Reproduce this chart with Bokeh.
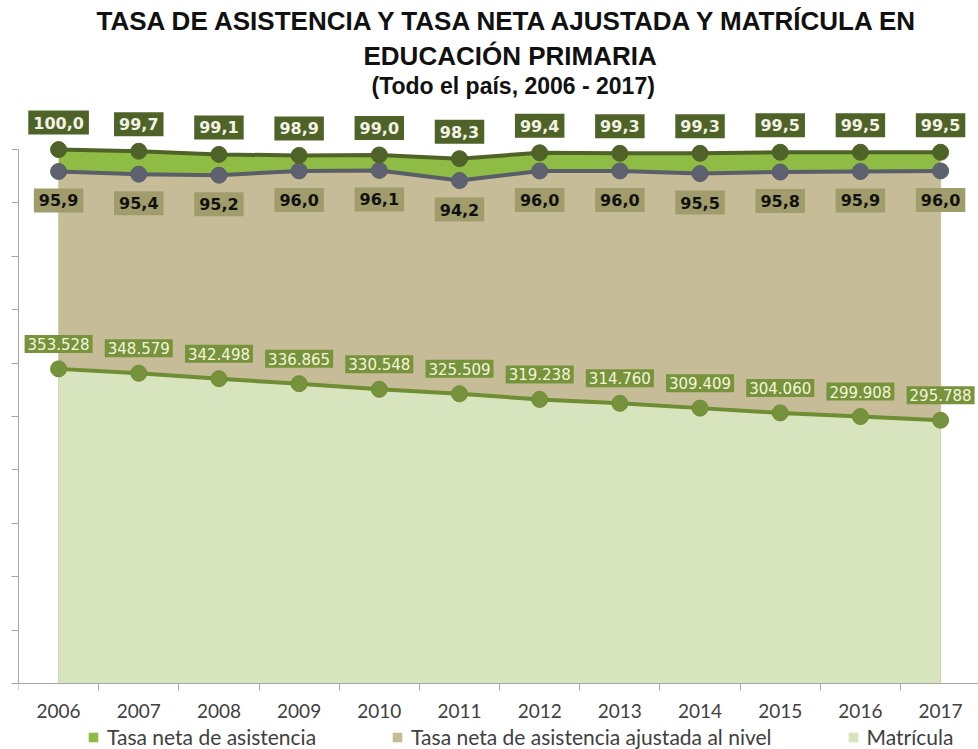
from bokeh.plotting import figure
from bokeh.models import (Range1d, FixedTicker, Legend, LegendItem, Title, LinearAxis, CustomJSTickFormatter)
from bokeh.core.properties import value
from bokeh.embed import file_html
from bokeh.resources import INLINE

years = [2006, 2007, 2008, 2009, 2010, 2011, 2012, 2013, 2014, 2015, 2016, 2017]
tasa_neta = [100.0, 99.7, 99.1, 98.9, 99.0, 98.3, 99.4, 99.3, 99.3, 99.5, 99.5, 99.5]
tasa_ajustada = [95.9, 95.4, 95.2, 96.0, 96.1, 94.2, 96.0, 96.0, 95.5, 95.8, 95.9, 96.0]
matricula = [353528, 348579, 342498, 336865, 330548, 325509, 319238, 314760, 309409, 304060, 299908, 295788]
series_names = ["Tasa neta de asistencia", "Tasa neta de asistencia ajustada al nivel", "Matrícula"]
title_lines = ["TASA DE ASISTENCIA Y TASA NETA AJUSTADA  Y MATRÍCULA EN",
               "EDUCACIÓN  PRIMARIA",
               "(Todo el país, 2006 - 2017)"]

lbl_neta = [f"{v:.1f}".replace(".", ",") for v in tasa_neta]
lbl_aj = [f"{v:.1f}".replace(".", ",") for v in tasa_ajustada]
lbl_mat = [f"{v:,}".replace(",", ".") for v in matricula]

PCT_MAX = 100.0
MAT_MAX = 600000.0
Y_START = -12.38
Y_END = 109.57

p = figure(width=978, height=749, output_backend="svg", toolbar_location=None,
           x_range=Range1d(2005.5, 2017.473), y_range=Range1d(Y_START, Y_END),
           min_border_left=18, min_border_right=0, min_border_top=0, min_border_bottom=0,
           y_axis_location=None, x_axis_location=None)
p.extra_y_ranges = {"mat": Range1d(MAT_MAX * Y_START / PCT_MAX, MAT_MAX * Y_END / PCT_MAX)}
p.outline_line_color = None
p.xgrid.visible = False
p.ygrid.visible = False
p.background_fill_color = "white"

# axes
yax = LinearAxis(ticker=FixedTicker(ticks=[i * 10 for i in range(11)]), bounds=(0, 100),
                 formatter=CustomJSTickFormatter(code="return ''"),
                 major_label_standoff=0,
                 major_tick_out=7, major_tick_in=0, minor_tick_out=0, minor_tick_in=0,
                 axis_line_color="#a6a6a6", major_tick_line_color="#a6a6a6")
p.add_layout(yax, "left")
xax = LinearAxis(ticker=FixedTicker(ticks=years, minor_ticks=[y - 0.5 for y in years] + [2017.5]),
                 fixed_location=0,
                 major_tick_out=0, major_tick_in=0, minor_tick_out=7, minor_tick_in=0,
                 axis_line_color="#a6a6a6", minor_tick_line_color="#a6a6a6",
                 major_label_text_font="Lato", major_label_text_font_size="19px",
                 major_label_text_color="#404040", major_label_standoff=14)
p.add_layout(xax, "below")

# areas
r_neta = p.varea(x=years, y1=0, y2=tasa_neta, fill_color="#8fbc45")
r_aj = p.varea(x=years, y1=0, y2=tasa_ajustada, fill_color="#c6bc98")
r_mat = p.varea(x=years, y1=0, y2=matricula, fill_color="#d7e4bd", y_range_name="mat")

# lines + markers
p.line(years, matricula, line_color="#6f8d33", line_width=4, y_range_name="mat")
p.scatter(years, matricula, size=16, fill_color="#76923c", line_color="#6f8d33", y_range_name="mat")
p.line(years, tasa_ajustada, line_color="#5a5e68", line_width=4)
p.scatter(years, tasa_ajustada, size=16, fill_color="#5e6270", line_color="#5a5e68")
p.line(years, tasa_neta, line_color="#4f6228", line_width=4)
p.scatter(years, tasa_neta, size=16, fill_color="#4f6228", line_color="#4f6228")

# data labels
p.text(years, tasa_neta, text=lbl_neta, y_offset=-27, text_align="center", text_baseline="middle",
       text_font=value("DejaVu Sans"), text_font_style="bold", text_font_size=value("16px"),
       text_color="#f2f2e6", background_fill_color="#4f6228", border_line_color=None, padding=(5, 6))
p.text(years, tasa_ajustada, text=lbl_aj, y_offset=29, text_align="center", text_baseline="middle",
       text_font=value("DejaVu Sans"), text_font_style="bold", text_font_size=value("16px"),
       text_color="#111111", background_fill_color="#a09c6c", border_line_color=None, padding=(5, 6))
p.text(years, matricula, text=lbl_mat, y_offset=-25, text_align="center", text_baseline="middle",
       text_font=value("DejaVu Sans"), text_font_size=value("15px"),
       text_color="#f5f5dc", background_fill_color="#77933c", border_line_color=None, padding=(3, 3),
       y_range_name="mat")

# legend (inside the frame, below the x axis)
legend = Legend(items=[LegendItem(label=series_names[0], renderers=[r_neta]),
                       LegendItem(label=series_names[1], renderers=[r_aj]),
                       LegendItem(label=series_names[2], renderers=[r_mat])],
                orientation="horizontal", location=(69, 0), spacing=75,
                label_text_font="Lato", label_text_font_size="21px", label_text_color="#404040",
                glyph_width=12, glyph_height=12, label_standoff=8,
                border_line_color=None, background_fill_alpha=0, padding=0, margin=0)
p.add_layout(legend, "center")

# titles (added bottom-up)
p.add_layout(Title(text=title_lines[2], align="left", offset=353, text_font="Liberation Sans",
                   text_font_size="23px", text_font_style="bold", text_color="#111111", standoff=0), "above")
p.add_layout(Title(text=title_lines[1], align="left", offset=345, text_font="Liberation Sans",
                   text_font_size="26px", text_font_style="bold", text_color="#111111", standoff=0), "above")
p.add_layout(Title(text=title_lines[0], align="left", offset=78, text_font="Liberation Sans",
                   text_font_size="26px", text_font_style="bold", text_color="#111111", standoff=6), "above")

open("out.html", "w").write(file_html(p, INLINE))
